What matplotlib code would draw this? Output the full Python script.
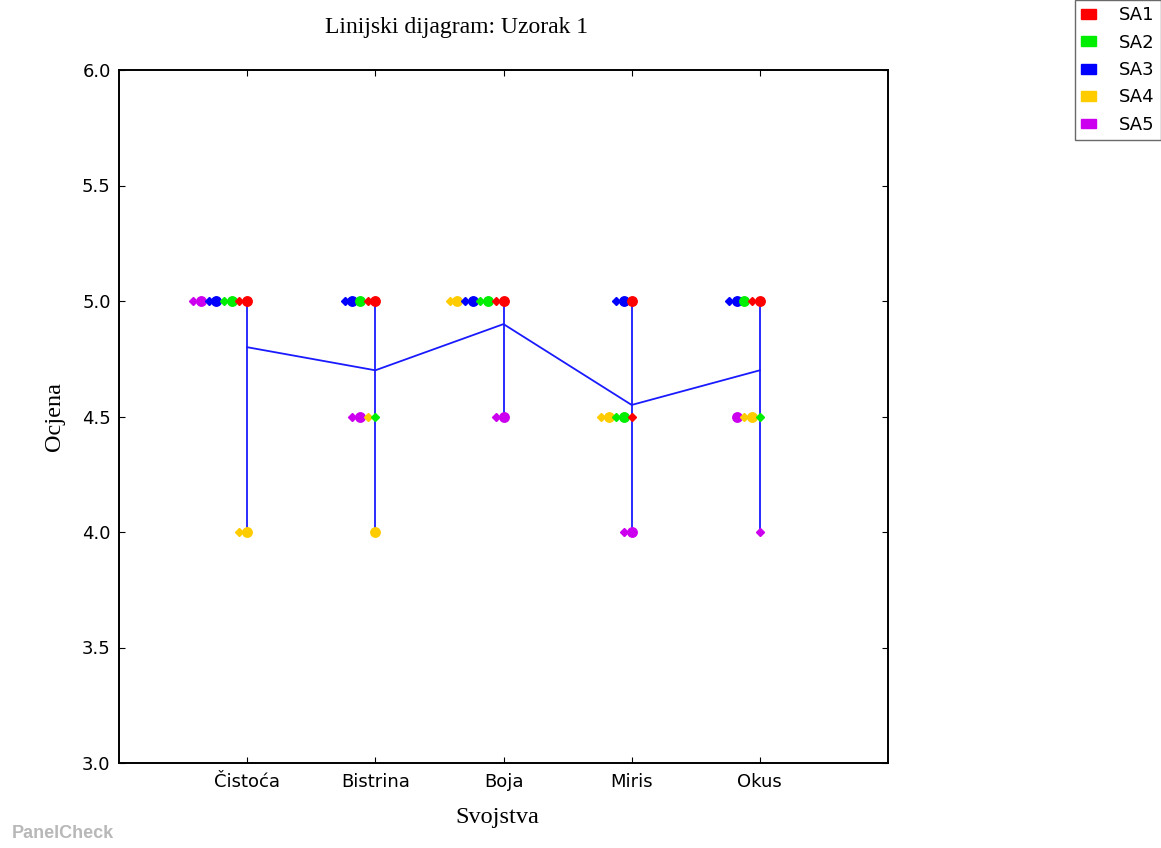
import matplotlib
matplotlib.use("Agg")
import matplotlib.pyplot as plt
from matplotlib.patches import Patch
import numpy as np

attributes = ["Čistoća", "Bistrina", "Boja", "Miris", "Okus"]
assessors = ["SA1", "SA2", "SA3", "SA4", "SA5"]
colors = ["#ff0000", "#00ee00", "#0000ff", "#ffcc00", "#cc00ee"]

# scores per assessor: [replicate 1 per attribute], [replicate 2 per attribute]
SA1_rep1 = [5.0, 5.0, 5.0, 5.0, 5.0]
SA1_rep2 = [5.0, 5.0, 5.0, 4.5, 5.0]
SA2_rep1 = [5.0, 5.0, 5.0, 4.5, 5.0]
SA2_rep2 = [5.0, 4.5, 5.0, 4.5, 4.5]
SA3_rep1 = [5.0, 5.0, 5.0, 5.0, 5.0]
SA3_rep2 = [5.0, 5.0, 5.0, 5.0, 5.0]
SA4_rep1 = [4.0, 4.0, 5.0, 4.5, 4.5]
SA4_rep2 = [4.0, 4.5, 5.0, 4.5, 4.5]
SA5_rep1 = [5.0, 4.5, 4.5, 4.0, 4.5]
SA5_rep2 = [5.0, 4.5, 4.5, 4.0, 4.0]

rep1 = [SA1_rep1, SA2_rep1, SA3_rep1, SA4_rep1, SA5_rep1]
rep2 = [SA1_rep2, SA2_rep2, SA3_rep2, SA4_rep2, SA5_rep2]

fig = plt.figure(figsize=(11.61, 8.48), dpi=100)
ax = fig.add_axes([119/1161, 1 - 763/848, (888-119)/1161, (763-70)/848])

xs = np.arange(1, len(attributes) + 1)
step = 0.06
means = []
for j, xpos in enumerate(xs):
    pts = []
    for i in range(len(assessors)):
        pts.append((rep1[i][j], i, "o"))
        pts.append((rep2[i][j], i, "D"))
    vals = [p[0] for p in pts]
    means.append(np.mean(vals))
    ax.plot([xpos, xpos], [min(vals), max(vals)], color="#1a1aff", lw=1.3, zorder=1)
    counts = {}
    for v, i, m in pts:
        k = counts.get(v, 0)
        counts[v] = k + 1
        ax.plot(xpos - k * step, v, marker=m, color=colors[i], markeredgecolor=colors[i],
                markersize=6.8 if m == "o" else 4.4, linestyle="none", zorder=3 + (10 - k) * 0.01)
ax.plot(xs, means, color="#1a1aff", lw=1.3, zorder=2)

ax.set_xlim(0, 6)
ax.set_ylim(3.0, 6.0)
ax.set_xticks(xs)
ax.set_xticklabels(attributes, fontsize=13)
ax.set_yticks(np.arange(3.0, 6.01, 0.5))
ax.set_yticklabels([f"{v:.1f}" for v in np.arange(3.0, 6.01, 0.5)], fontsize=13)
ax.tick_params(direction="in", length=4, top=True, right=True, width=0.8, pad=6)
ax.tick_params(axis="x", pad=7)
for s in ax.spines.values():
    s.set_linewidth(1.4)

ax.set_xlabel("Svojstva", family="Liberation Serif", fontsize=17.5)
ax.xaxis.set_label_coords((497 - 119) / (888 - 119), -(818 - 763) / (763 - 70))
ax.xaxis.label.set_va("center")
ax.set_ylabel("Ocjena", family="Liberation Serif", fontsize=17.5)
ax.yaxis.set_label_coords(-(119 - 55) / (888 - 119), 0.5)
ax.yaxis.label.set_va("center")
fig.text(457/1161, 1 - 28/848, "Linijski dijagram: Uzorak 1", family="Liberation Serif",
         fontsize=17, ha="center", va="center")

handles = [Patch(facecolor=c, edgecolor=c) for c in colors]
leg = fig.legend(handles, assessors, loc="upper right", bbox_to_anchor=(1.0, 1.0),
                 fontsize=13, frameon=True, fancybox=False, handlelength=0.8, handleheight=0.45,
                 borderaxespad=0, labelspacing=0.52, handletextpad=1.3, borderpad=0.35)
leg.get_frame().set_edgecolor("#444444")
leg.get_frame().set_linewidth(1.0)

fig.text(12/1161, 1 - 833/848, "PanelCheck", color="#b8b8b8", fontsize=13,
         fontweight="bold", family="Liberation Sans", ha="left", va="center")

fig.savefig("out.png", dpi=100)
